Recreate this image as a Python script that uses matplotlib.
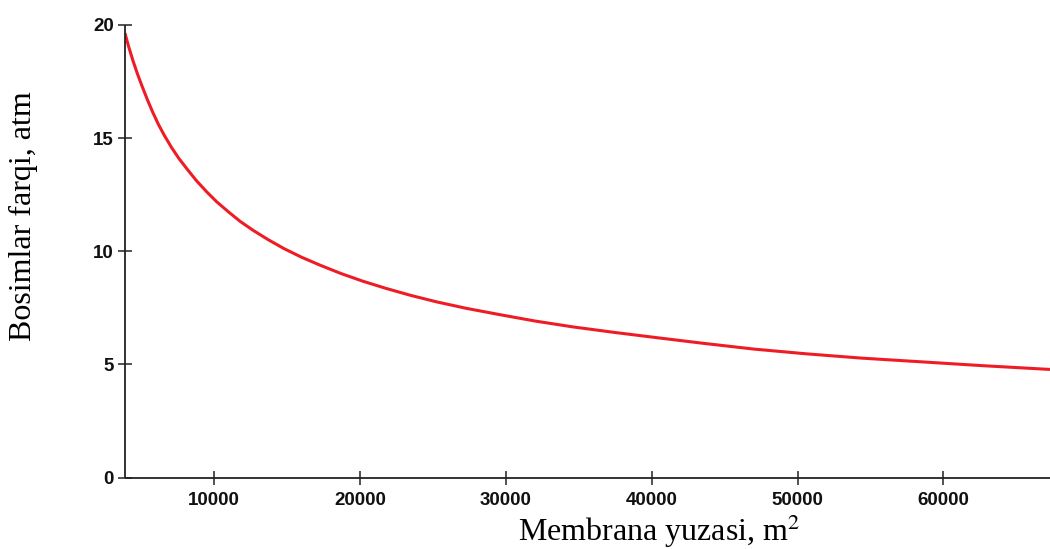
import matplotlib
matplotlib.use("Agg")
import matplotlib.pyplot as plt

# Pressure difference vs. membrane area
area_m2 = [3900, 4150, 4450, 4750, 5100, 5450, 5800, 6200, 6600, 7100,
           7600, 8200, 8800, 9500, 10200, 11000, 11800, 12700, 13700, 14800,
           16000, 17300, 18700, 20200, 21800, 23500, 25300, 27300, 29600, 32000,
           34600, 37400, 40400, 43600, 47000, 50600, 54400, 58400, 62600, 67300]
pressure_atm = [19.64, 19.05, 18.42, 17.85, 17.25, 16.68, 16.15, 15.60, 15.12, 14.58,
                14.10, 13.60, 13.12, 12.63, 12.18, 11.74, 11.32, 10.92, 10.52, 10.12,
                9.74, 9.38, 9.02, 8.68, 8.36, 8.05, 7.76, 7.48, 7.20, 6.92,
                6.66, 6.42, 6.18, 5.93, 5.68, 5.47, 5.28, 5.12, 4.95, 4.78]

x_ticks = [10000, 20000, 30000, 40000, 50000, 60000]
y_ticks = [0, 5, 10, 15, 20]

plt.rcParams["mathtext.fontset"] = "stix"

fig = plt.figure(figsize=(10.5, 5.49), dpi=100)
ax = fig.add_axes([0.119, 0.130, 0.881, 0.8245])

ax.plot(area_m2, pressure_atm, color="#ee1c25", linewidth=2.2,
        solid_joinstyle="round", solid_capstyle="butt")

ax.set_xlim(3900, 67300)
ax.set_ylim(0, 20)
ax.set_xticks(x_ticks)
ax.set_yticks(y_ticks)

for side in ["top", "right"]:
    ax.spines[side].set_visible(False)
for side in ["left", "bottom"]:
    ax.spines[side].set_color("#222222")
    ax.spines[side].set_linewidth(1.3)
    ax.spines[side].set_capstyle("butt")

ax.tick_params(axis="both", direction="inout", length=10, width=1.1,
               color="#222222", labelcolor="#111111", labelsize=13.5)
ax.tick_params(axis="x", pad=5)
ax.tick_params(axis="y", pad=3)
for lbl in ax.get_xticklabels() + ax.get_yticklabels():
    lbl.set_fontfamily("Liberation Sans")
    lbl.set_fontweight("bold")

# Axis titles
fig.text(0.628, 0.015, "Membrana yuzasi, m$^2$", ha="center", va="baseline",
         fontsize=23, family="Liberation Serif")
fig.text(0.0224, 0.607, "Bosimlar farqi, atm", ha="center", va="center",
         rotation=90, fontsize=23, family="Liberation Serif")

fig.savefig("out.png", dpi=100)
